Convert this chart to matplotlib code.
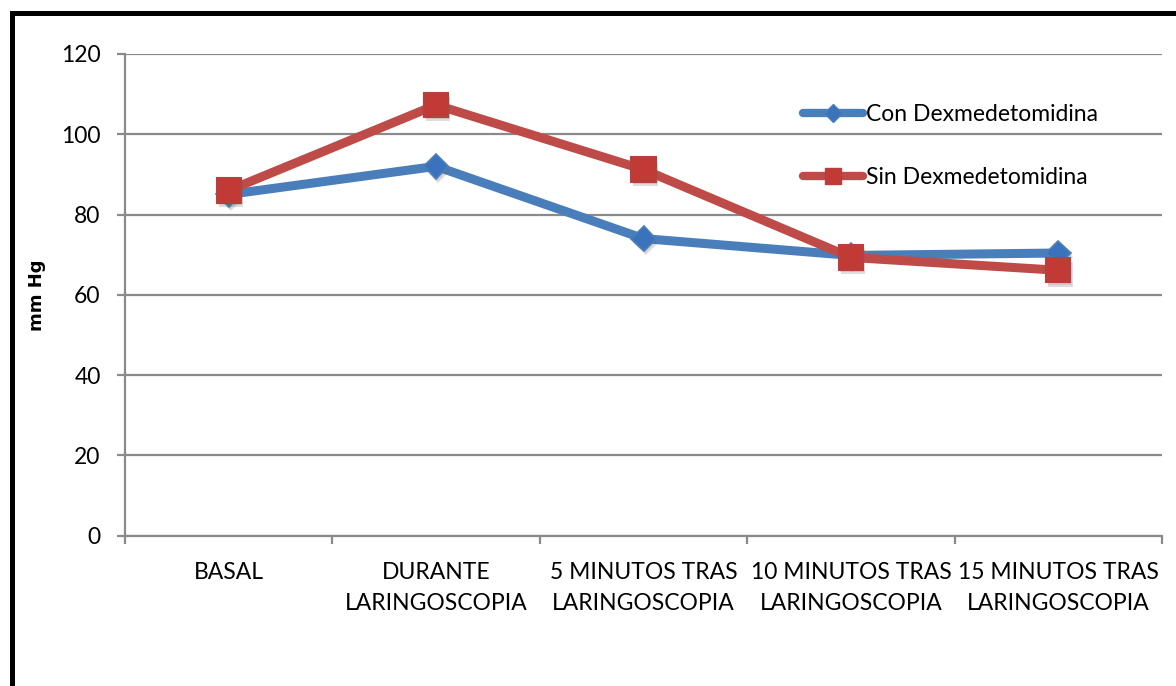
import matplotlib
matplotlib.use("Agg")
import matplotlib.pyplot as plt
import matplotlib.patheffects as pe
from matplotlib.lines import Line2D
from matplotlib.patches import Rectangle

# Data
categories = ["BASAL", "DURANTE\nLARINGOSCOPIA", "5 MINUTOS TRAS\nLARINGOSCOPIA",
              "10 MINUTOS TRAS\nLARINGOSCOPIA", "15 MINUTOS TRAS\nLARINGOSCOPIA"]
con_dex = [85, 92, 74, 69.8, 70.4]
sin_dex = [86, 107.3, 91.2, 69.3, 66.1]
series_names = ["Con Dexmedetomidina", "Sin Dexmedetomidina"]
y_ticks = [0, 20, 40, 60, 80, 100, 120]

plt.rcParams["font.family"] = ["Lato", "DejaVu Sans"]

W, H = 1176, 686
fig = plt.figure(figsize=(W / 100, H / 100), dpi=100)

# Outer black frame (right and bottom edges run off the canvas)
fig.patches.append(Rectangle((11.5 / W, -0.2), 1.3, 1.2 - 13 / H,
                             transform=fig.transFigure, fill=False,
                             edgecolor="black", linewidth=3.6))

ax = fig.add_axes([125 / W, 1 - 535.5 / H, (1162 - 125) / W, (535.5 - 54) / H])

grid_color = "#8a8a8a"
x = [i + 0.5 for i in range(len(categories))]

blue_line, blue_fill = "#4A7EBB", "#3A72BC"
red_line, red_fill = "#BE4B48", "#C23A35"

# soft drop shadow under the markers
shadow_m = [pe.SimplePatchShadow(offset=(1.5, -3), shadow_rgbFace="#666666", alpha=0.22),
            pe.SimplePatchShadow(offset=(1, -1.5), shadow_rgbFace="#666666", alpha=0.15),
            pe.Normal()]

# Con Dexmedetomidina
ax.plot(x, con_dex, color=blue_line, lw=6.5, solid_joinstyle="round", zorder=3)
ax.plot(x, con_dex, ls="none", marker="D", ms=12.5, mfc=blue_fill,
        mec=blue_line, mew=1.2, path_effects=shadow_m, zorder=4)

# Sin Dexmedetomidina
ax.plot(x, sin_dex, color=red_line, lw=6.5, solid_joinstyle="round", zorder=5)
ax.plot(x, sin_dex, ls="none", marker="s", ms=17.5, mfc=red_fill,
        mec="#B5403D", mew=1.5, path_effects=shadow_m, zorder=6)

ax.set_xlim(0, len(categories))
ax.set_ylim(0, 120)
ax.set_yticks(y_ticks)
ax.set_yticklabels([str(v) for v in y_ticks])
ax.set_xticks(range(len(categories) + 1))
ax.set_xticklabels([])
ax.set_xticks(x, minor=True)
ax.set_xticklabels(categories, minor=True, linespacing=1.62)

ax.yaxis.grid(True, color=grid_color, lw=1.6)
ax.set_axisbelow(True)
for s in ["top", "right"]:
    ax.spines[s].set_visible(False)
for s in ["left", "bottom"]:
    ax.spines[s].set_color(grid_color)
    ax.spines[s].set_linewidth(1.6)

ax.tick_params(axis="y", length=5.5, width=1.6, color=grid_color, pad=12, labelsize=16.5)
ax.tick_params(axis="x", which="major", length=5.5, width=1.6, color=grid_color)
ax.tick_params(axis="x", which="minor", length=0, pad=19, labelsize=16.5)

ax.set_ylabel("mm Hg", fontsize=13, fontweight="bold", family="DejaVu Sans")
ax.yaxis.set_label_coords((37 - 125) / 1037, (535.5 - 295) / 481.5)
ax.yaxis.label.set_va("center")

handles = [
    Line2D([], [], color=blue_line, lw=6, solid_capstyle="round", marker="D",
           ms=9, mfc=blue_fill, mec=blue_line),
    Line2D([], [], color=red_line, lw=6, solid_capstyle="round", marker="s",
           ms=12, mfc=red_fill, mec="#B5403D"),
]
ax.legend(handles, series_names, loc="upper left", bbox_to_anchor=(669 / 1037, 0.915),
          frameon=False, fontsize=16.5, handlelength=2.6, handletextpad=0.15,
          labelspacing=1.85, borderaxespad=0)

fig.savefig("out.png", dpi=100)
